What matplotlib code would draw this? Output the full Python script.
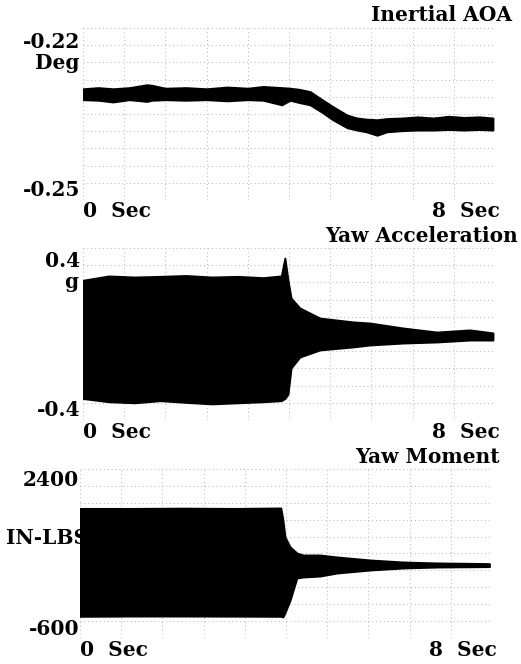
import matplotlib
matplotlib.use("Agg")
import matplotlib.pyplot as plt

# ---- Inertial AOA (deg): upper / lower edge of the recorded trace ----
aoa_t  = [0.0, 0.3, 0.58, 0.9, 1.24, 1.34, 1.6, 2.0, 2.4, 2.8, 3.2, 3.5, 3.86, 4.02, 4.2,
          4.41, 4.66, 4.85, 5.13, 5.32, 5.5, 5.71, 5.9, 6.2, 6.5, 6.8, 7.1, 7.4, 7.7, 7.96]
aoa_hi = [-0.2306, -0.2304, -0.2306, -0.2304, -0.2299, -0.2300, -0.2305, -0.2304, -0.2306, -0.2303,
          -0.2305, -0.2302, -0.2304, -0.2305, -0.2307, -0.2311, -0.2326, -0.2337, -0.2352, -0.2357,
          -0.2359, -0.2360, -0.2358, -0.2357, -0.2355, -0.2357, -0.2354, -0.2356, -0.2355, -0.2357]
aoa_lo = [-0.2325, -0.2326, -0.2329, -0.2325, -0.2328, -0.2326, -0.2325, -0.2326, -0.2325, -0.2327,
          -0.2325, -0.2326, -0.2334, -0.2326, -0.2330, -0.2334, -0.2348, -0.2360, -0.2374, -0.2378,
          -0.2381, -0.2387, -0.2381, -0.2379, -0.2378, -0.2378, -0.2377, -0.2378, -0.2377, -0.2378]

# ---- Yaw acceleration (g): oscillation envelope ----
acc_t  = [0.0, 0.5, 1.0, 1.5, 2.0, 2.5, 3.0, 3.5, 3.85, 3.92, 3.98, 4.04, 4.21, 4.6,
          5.25, 5.57, 6.21, 6.87, 7.51, 7.96]
acc_hi = [0.250, 0.270, 0.265, 0.268, 0.272, 0.265, 0.268, 0.262, 0.270, 0.353, 0.250, 0.167,
          0.121, 0.074, 0.056, 0.051, 0.028, 0.009, 0.019, 0.005]
acc_lo = [-0.300, -0.315, -0.320, -0.310, -0.318, -0.325, -0.320, -0.315, -0.310, -0.300, -0.280,
          -0.158, -0.107, -0.074, -0.060, -0.051, -0.042, -0.037, -0.028, -0.028]

# ---- Yaw moment (in-lbs): oscillation envelope ----
mom_t  = [0.0, 1.0, 2.0, 3.0, 3.9, 3.94, 3.98, 4.08, 4.21, 4.33, 4.66, 4.99, 5.63, 6.27,
          6.93, 7.57, 7.95]
mom_hi = [1700, 1700, 1705, 1700, 1708, 1495, 1193, 1016, 909, 873, 873, 838, 785, 749, 732, 725, 720]
mom_lo = [-215, -210, -210, -212, -215, -227, -150, 75, 465, 483, 500, 554, 607, 643, 660, 665, 668]

W, H = 521, 664
fig = plt.figure(figsize=(W / 100, H / 100), dpi=100)
fig.patch.set_facecolor("white")

font = dict(family="DejaVu Serif", weight="bold", color="black")


def px_text(x, y, s, ha="left", size=14.5):
    fig.text(x / W, 1 - y / H, s, ha=ha, va="center", fontsize=size, **font)


def panel(box, t, hi, lo, ylim):
    left, top, right, bottom = box
    ax = fig.add_axes([left / W, 1 - bottom / H, (right - left) / W, (bottom - top) / H])
    ax.set_xlim(0, 8)
    ax.set_ylim(*ylim)
    ax.fill_between(t, lo, hi, color="black", linewidth=1.4, edgecolor="black")
    ax.set_xticks([i * 0.8 for i in range(11)])
    ax.set_yticks([ylim[0] + i * (ylim[1] - ylim[0]) / 10 for i in range(11)])
    ax.tick_params(length=0, labelbottom=False, labelleft=False)
    ax.grid(True, color="#b4b4b4", linestyle=(0, (1, 3)), linewidth=0.7)
    ax.set_axisbelow(True)
    for s in ax.spines.values():
        s.set_visible(False)
    return ax


# Inertial AOA
panel((83, 28, 495, 200), aoa_t, aoa_hi, aoa_lo, (-0.25, -0.22))
px_text(512, 15, "Inertial AOA", ha="right")
px_text(80, 42, "-0.22", ha="right")
px_text(80, 63, "Deg", ha="right")
px_text(80, 190, "-0.25", ha="right")
px_text(83, 211, "0  Sec")
px_text(500, 211, "8  Sec", ha="right")

# Yaw acceleration
panel((83, 248, 495, 420), acc_t, acc_hi, acc_lo, (-0.4, 0.4))
px_text(518, 236, "Yaw Acceleration", ha="right")
px_text(80, 261, "0.4", ha="right")
px_text(78, 282, "g", ha="right")
px_text(80, 410, "-0.4", ha="right")
px_text(83, 432, "0  Sec")
px_text(500, 432, "8  Sec", ha="right")

# Yaw moment
panel((80, 469, 492, 638), mom_t, mom_hi, mom_lo, (-600, 2400))
px_text(500, 457, "Yaw Moment", ha="right")
px_text(79, 480, "2400", ha="right")
px_text(6, 538, "IN-LBS")
px_text(79, 629, "-600", ha="right")
px_text(80, 650, "0  Sec")
px_text(497, 650, "8  Sec", ha="right")

fig.savefig("out.png", dpi=100, facecolor="white")
